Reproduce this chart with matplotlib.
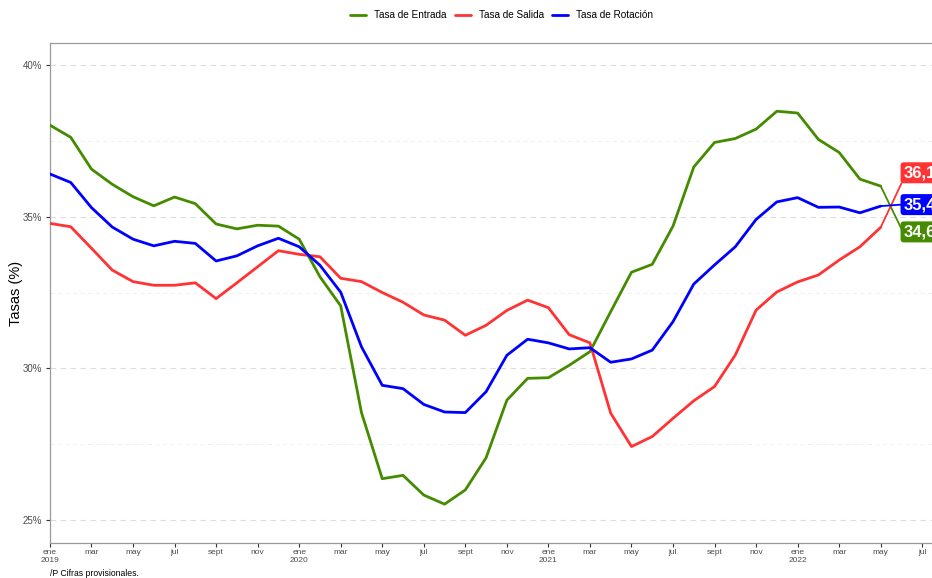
import numpy as np
import matplotlib.pyplot as plt
from matplotlib.ticker import FixedLocator, FuncFormatter

plt.rcParams["font.family"] = ["Liberation Sans", "DejaVu Sans"]

# monthly series, ene 2019 .. jun 2022 (last value provisional)
meses = ["ene", "feb", "mar", "abr", "may", "jun", "jul", "ago", "sept", "oct", "nov", "dic"]
anios = [2019, 2020, 2021, 2022]
n_meses = 42

entrada = [38.02, 37.62, 36.57, 36.07, 35.66, 35.36, 35.65, 35.43, 34.76, 34.60, 34.72, 34.69,
           34.26, 33.02, 32.06, 28.54, 26.36, 26.47, 25.82, 25.52, 25.99, 27.05, 28.95, 29.67,
           29.69, 30.10, 30.55, 31.87, 33.17, 33.43, 34.69, 36.64, 37.45, 37.58, 37.89, 38.48,
           38.42, 37.55, 37.12, 36.24, 36.01, 34.6]
salida = [34.78, 34.67, 33.96, 33.24, 32.86, 32.74, 32.74, 32.82, 32.30, 32.82, 33.35, 33.88,
          33.76, 33.68, 32.97, 32.86, 32.50, 32.18, 31.76, 31.59, 31.09, 31.42, 31.91, 32.25,
          32.00, 31.11, 30.84, 28.52, 27.42, 27.75, 28.35, 28.93, 29.40, 30.44, 31.92, 32.52,
          32.85, 33.08, 33.57, 34.01, 34.65, 36.1]
rotacion = [36.41, 36.13, 35.30, 34.66, 34.26, 34.04, 34.19, 34.12, 33.54, 33.71, 34.04, 34.29,
            34.01, 33.40, 32.51, 30.71, 29.44, 29.33, 28.81, 28.56, 28.54, 29.23, 30.43, 30.96,
            30.84, 30.64, 30.68, 30.20, 30.31, 30.60, 31.54, 32.78, 33.41, 34.01, 34.91, 35.49,
            35.63, 35.31, 35.32, 35.13, 35.35, 35.4]

series = [("Tasa de Entrada", entrada, "#458B00"),
          ("Tasa de Salida", salida, "#FF3333"),
          ("Tasa de Rotación", rotacion, "#0000FF")]
etiquetas = {"Tasa de Entrada": ("34,6", 34.5),
             "Tasa de Salida": ("36,1", 36.45),
             "Tasa de Rotación": ("35,4", 35.4)}

x = np.arange(n_meses)

fig = plt.figure(figsize=(9.32, 5.78), dpi=100)
ax = fig.add_axes([0.0536, 0.0606, 0.9464, 0.865])

for name, vals, col in series:
    v = np.array(vals)
    ax.plot(x[:-1], v[:-1], color=col, lw=2.0, label=name, solid_capstyle="round", zorder=3)
    ax.plot(x[-2:], v[-2:], color=col, lw=1.3, zorder=3)   # provisional point
    txt, ypos = etiquetas[name]
    ax.text(x[-1] + 0.1, ypos, txt, color="white", fontsize=12, fontweight="bold",
            ha="left", va="center", zorder=5,
            bbox=dict(boxstyle="round,pad=0.18,rounding_size=0.2", fc=col, ec="none"))

ax.set_xlim(0, 42.47)
ax.set_ylim(24.24, 40.73)

# y axis
ax.yaxis.set_major_locator(FixedLocator([25, 30, 35, 40]))
ax.yaxis.set_minor_locator(FixedLocator([27.5, 32.5, 37.5]))
ax.yaxis.set_major_formatter(FuncFormatter(lambda v, p: f"{v:.0f}%"))
ax.grid(axis="y", which="major", color="#DDDDDD", ls=(0, (5, 4)), lw=0.8)
ax.grid(axis="y", which="minor", color="#EEEEEE", ls=(0, (5, 4)), lw=0.6)
ax.set_ylabel("Tasas (%)", fontsize=10.5, color="black")
ax.yaxis.set_label_coords(-0.031, 0.5)

# x axis: every two months
ticks = np.arange(0, n_meses + 1, 2)
labs = []
for t in ticks:
    m = meses[t % 12]
    labs.append(f"{m}\n{anios[t // 12]}" if t % 12 == 0 else m)
ax.set_xticks(ticks)
ax.set_xticklabels(labs, fontsize=6, color="#4D4D4D", linespacing=1.15)
ax.tick_params(axis="y", which="major", labelsize=7, labelcolor="#4D4D4D", length=3,
               color="#333333", pad=2.5)
ax.tick_params(axis="y", which="minor", length=0)
ax.tick_params(axis="x", length=3, color="#333333", pad=1.5)

for s in ["left", "top", "bottom"]:
    ax.spines[s].set_color("#9A9A9A")
    ax.spines[s].set_linewidth(0.9)
ax.spines["right"].set_visible(False)
ax.set_axisbelow(True)

fig.legend(loc="center", bbox_to_anchor=(0.538, 0.974), ncol=3, frameon=False,
           fontsize=7.2, handlelength=1.6, handletextpad=0.8, columnspacing=0.8)

fig.text(50 / 932, 1 - 573 / 578, "/P Cifras provisionales.", fontsize=6.2, ha="left", va="center")

fig.savefig("out.png", dpi=100)
